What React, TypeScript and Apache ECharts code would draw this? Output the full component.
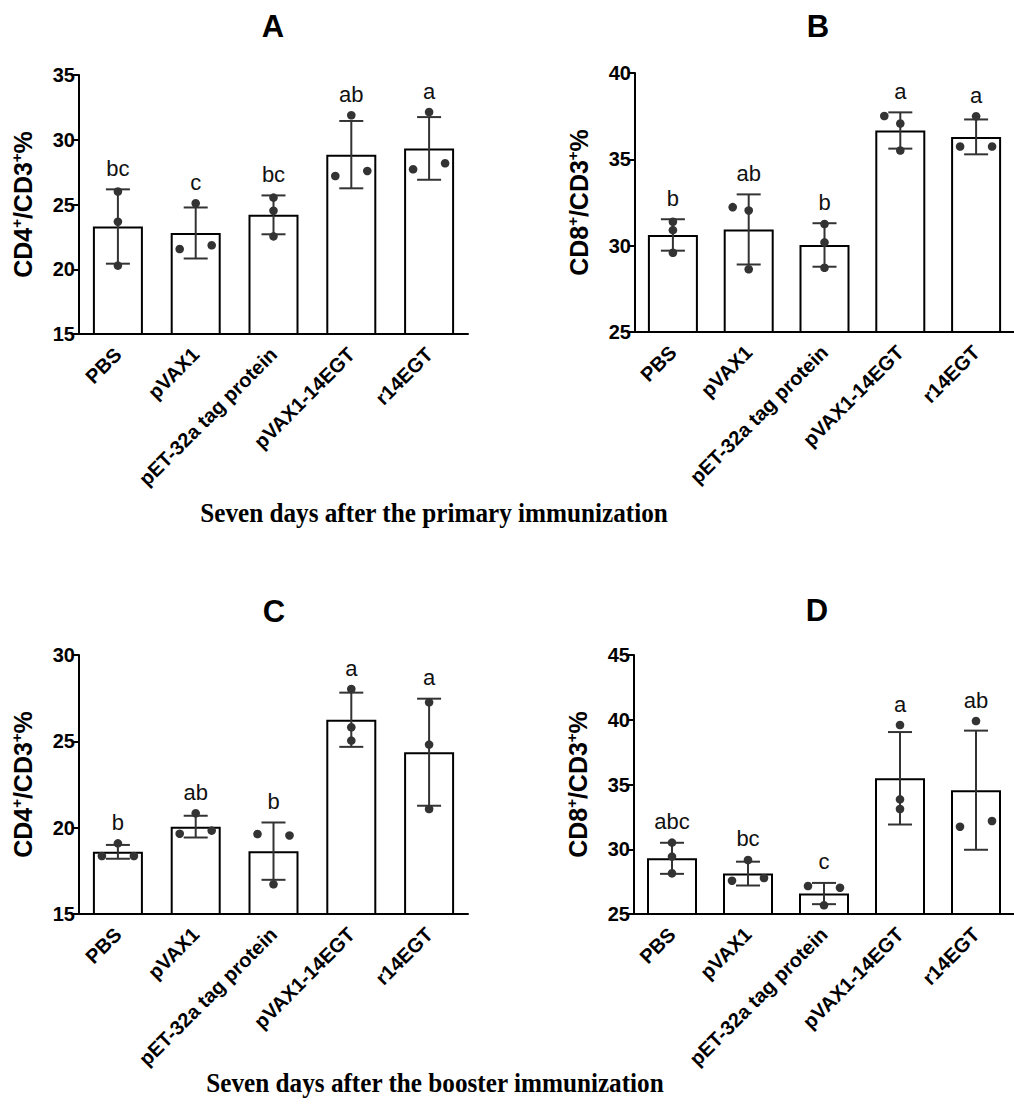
import React, { useEffect, useRef } from "react";
import * as echarts from "echarts";

// ---------- data ----------
const CATEGORIES = ["PBS", "pVAX1", "pET-32a tag protein", "pVAX1-14EGT", "r14EGT"];

// Panel A: CD4+/CD3+ %, 7 days after primary immunization
const MEAN_A = [23.3, 22.8, 24.2, 28.85, 29.33];
const SD_A = [2.87, 1.97, 1.5, 2.6, 2.42];
const POINTS_A = [[26.0, 23.67, 20.28], [25.09, 21.56, 21.85], [25.53, 24.52, 22.54], [31.89, 27.2, 27.59], [32.14, 27.72, 28.18]];
const LETTERS_A = ["bc", "c", "bc", "ab", "a"];

// Panel B: CD8+/CD3+ %, 7 days after primary immunization
const MEAN_B = [30.62, 30.94, 30.04, 36.67, 36.3];
const SD_B = [0.91, 2.03, 1.26, 1.05, 1.01];
const POINTS_B = [[31.38, 30.9, 29.59], [32.23, 32.04, 28.63], [31.25, 30.19, 28.72], [37.51, 37.07, 35.51], [37.49, 35.74, 35.74]];
const LETTERS_B = ["b", "ab", "b", "a", "a"];

// Panel C: CD4+/CD3+ %, 7 days after booster immunization
const MEAN_C = [18.6, 20.06, 18.64, 26.25, 24.37];
const SD_C = [0.4, 0.63, 1.66, 1.57, 3.1];
const POINTS_C = [[19.09, 18.36, 18.36], [20.83, 19.65, 19.83], [19.63, 19.55, 16.72], [28.03, 25.81, 25.04], [27.26, 24.81, 21.08]];
const LETTERS_C = ["b", "ab", "b", "a", "a"];

// Panel D: CD8+/CD3+ %, 7 days after booster immunization
const MEAN_D = [29.3, 28.12, 26.58, 35.48, 34.56];
const SD_D = [1.2, 0.92, 0.82, 3.57, 4.6];
const POINTS_D = [[30.51, 29.43, 28.14], [29.17, 27.57, 27.78], [27.16, 27.03, 25.67], [39.59, 33.85, 33.11], [39.9, 31.74, 32.18]];
const LETTERS_D = ["abc", "bc", "c", "a", "ab"];

// y-axis ranges
const Y_RANGE_A = [15, 35];
const Y_RANGE_B = [25, 40];
const Y_RANGE_C = [15, 30];
const Y_RANGE_D = [25, 45];

const PANEL_TITLES = ["A", "B", "C", "D"];
const CAPTIONS = ["Seven days after the primary immunization", "Seven days after the booster immunization"];

// ---------- layout (horizontal jitter slot of each dot: -1 left, 0 centre, 1 right) ----------
const SLOTS_A = [[0, 0, 0], [0, -1, 1], [0, 0, 0], [0, -1, 1], [0, -1, 1]];
const SLOTS_B = [[0, 0, 0], [-1, 0, 0], [0, 0, 0], [-1, 0, 0], [0, -1, 1]];
const SLOTS_C = [[0, -1, 1], [0, -1, 1], [-1, 1, 0], [0, 0, 0], [0, 0, 0]];
const SLOTS_D = [[0, 0, 0], [0, -1, 1], [-1, 1, 0], [0, 0, 0], [0, -1, 1]];

const GRIDS = [
  { left: 79, top: 75, width: 389, height: 259 },
  { left: 635, top: 73, width: 389, height: 259 },
  { left: 79, top: 655, width: 389, height: 259 },
  { left: 634, top: 655, width: 389, height: 259 },
];

const SANS = '"Liberation Sans", Arial, Helvetica, sans-serif';
const SERIF = '"Liberation Serif", "Times New Roman", serif';
const INK = "#333333";

function buildPanel(
  k: number,
  means: number[],
  sds: number[],
  points: number[][],
  slots: number[][],
  letters: string[]
) {
  const errData = means.map((m, i) => [i, m, sds[i]]);
  const dotData: number[][] = [];
  points.forEach((arr, i) => arr.forEach((v, j) => dotData.push([i, v, slots[i][j]])));
  const letterData = means.map((m, i) => [i, Math.max(m + sds[i], ...points[i])]);
  const lineStyle = { stroke: INK, lineWidth: 2 };
  return [
    {
      type: "bar",
      xAxisIndex: k,
      yAxisIndex: k,
      data: means,
      barWidth: 50,
      itemStyle: { color: "#ffffff", borderColor: "#000000", borderWidth: 2 },
      z: 2,
    },
    {
      type: "custom",
      xAxisIndex: k,
      yAxisIndex: k,
      data: errData,
      encode: { x: 0, y: 1 },
      z: 3,
      renderItem: (params: any, api: any) => {
        const i = api.value(0);
        const m = api.value(1);
        const s = api.value(2);
        const hi = api.coord([i, m + s]);
        const lo = api.coord([i, m - s]);
        const w = 12;
        return {
          type: "group",
          children: [
            { type: "line", shape: { x1: hi[0], y1: hi[1], x2: lo[0], y2: lo[1] }, style: lineStyle },
            { type: "line", shape: { x1: hi[0] - w, y1: hi[1], x2: hi[0] + w, y2: hi[1] }, style: lineStyle },
            { type: "line", shape: { x1: lo[0] - w, y1: lo[1], x2: lo[0] + w, y2: lo[1] }, style: lineStyle },
          ],
        };
      },
    },
    {
      type: "custom",
      xAxisIndex: k,
      yAxisIndex: k,
      data: dotData,
      encode: { x: 0, y: 1 },
      z: 4,
      renderItem: (params: any, api: any) => {
        const p = api.coord([api.value(0), api.value(1)]);
        const slot = api.value(2);
        return {
          type: "circle",
          shape: { cx: p[0] + slot * 16, cy: p[1], r: 4.3 },
          style: { fill: INK },
        };
      },
    },
    {
      type: "custom",
      xAxisIndex: k,
      yAxisIndex: k,
      data: letterData,
      encode: { x: 0, y: 1 },
      z: 5,
      renderItem: (params: any, api: any) => {
        const p = api.coord([api.value(0), api.value(1)]);
        return {
          type: "text",
          x: p[0],
          y: p[1] - 21,
          style: {
            text: letters[params.dataIndex],
            fill: "#111111",
            font: `22px ${SANS}`,
            align: "center",
            verticalAlign: "middle",
          },
        };
      },
    },
  ];
}

function yAxisName(isCD4: boolean) {
  return isCD4 ? "{b|CD4}{s|+}{b|/CD3}{s|+}{b|%}" : "{b|CD8}{s|+}{b|/CD3}{s|+}{b|%}";
}

export default function App() {
  const ref = useRef<HTMLDivElement>(null);
  useEffect(() => {
    if (!ref.current) return;
    const chart = echarts.init(ref.current, null, { renderer: "svg" });
    const ranges = [Y_RANGE_A, Y_RANGE_B, Y_RANGE_C, Y_RANGE_D];
    const xAxes = GRIDS.map((_, k) => ({
      type: "category",
      gridIndex: k,
      data: CATEGORIES,
      axisLine: { lineStyle: { color: "#000", width: 2 } },
      axisTick: { alignWithLabel: true, length: 7, lineStyle: { color: "#000", width: 2 } },
      axisLabel: {
        interval: 0,
        rotate: 45,
        margin: 17,
        color: "#000",
        fontSize: 20,
        fontWeight: "bold",
        fontFamily: SANS,
      },
    }));
    const yAxes = GRIDS.map((_, k) => ({
      type: "value",
      gridIndex: k,
      min: ranges[k][0],
      max: ranges[k][1],
      interval: 5,
      splitLine: { show: false },
      axisLine: { show: true, lineStyle: { color: "#000", width: 2 } },
      axisTick: { show: true, length: 7, lineStyle: { color: "#000", width: 2 } },
      axisLabel: { color: "#000", fontSize: 20, fontWeight: "bold", fontFamily: SANS, margin: 4 },
      name: yAxisName(k % 2 === 0),
      nameLocation: "middle",
      nameRotate: 90,
      nameGap: 42,
      nameTextStyle: {
        color: "#000",
        rich: {
          b: { fontSize: 25, fontWeight: "bold", fontFamily: SANS, color: "#000", lineHeight: 28 },
          s: { fontSize: 15, fontWeight: "bold", fontFamily: SANS, color: "#000", lineHeight: 14, verticalAlign: "top" },
        },
      },
    }));
    const series = [
      ...buildPanel(0, MEAN_A, SD_A, POINTS_A, SLOTS_A, LETTERS_A),
      ...buildPanel(1, MEAN_B, SD_B, POINTS_B, SLOTS_B, LETTERS_B),
      ...buildPanel(2, MEAN_C, SD_C, POINTS_C, SLOTS_C, LETTERS_C),
      ...buildPanel(3, MEAN_D, SD_D, POINTS_D, SLOTS_D, LETTERS_D),
    ];
    const titlePos = [
      [273, 26.5],
      [818, 26.5],
      [274, 611.5],
      [817, 610],
    ];
    const graphic: any[] = PANEL_TITLES.map((t, k) => ({
      type: "text",
      x: titlePos[k][0],
      y: titlePos[k][1],
      style: { text: t, font: `bold 31px ${SANS}`, fill: "#000", align: "center", verticalAlign: "middle" },
    }));
    graphic.push(
      {
        type: "text",
        x: 434,
        y: 513,
        scaleX: 0.9,
        style: { text: CAPTIONS[0], font: `bold 28px ${SERIF}`, fill: "#000", align: "center", verticalAlign: "middle" },
      },
      {
        type: "text",
        x: 435,
        y: 1083,
        scaleX: 0.9,
        style: { text: CAPTIONS[1], font: `bold 28px ${SERIF}`, fill: "#000", align: "center", verticalAlign: "middle" },
      }
    );
    chart.setOption({
      animation: false,
      backgroundColor: "#ffffff",
      grid: GRIDS.map((g) => ({ ...g, containLabel: false })),
      xAxis: xAxes,
      yAxis: yAxes,
      series,
      graphic,
    });
    return () => chart.dispose();
  }, []);
  return (
    <div
      ref={ref}
      style={{ position: "absolute", left: 0, top: 0, width: 1014, height: 1117, background: "#fff" }}
    />
  );
}
